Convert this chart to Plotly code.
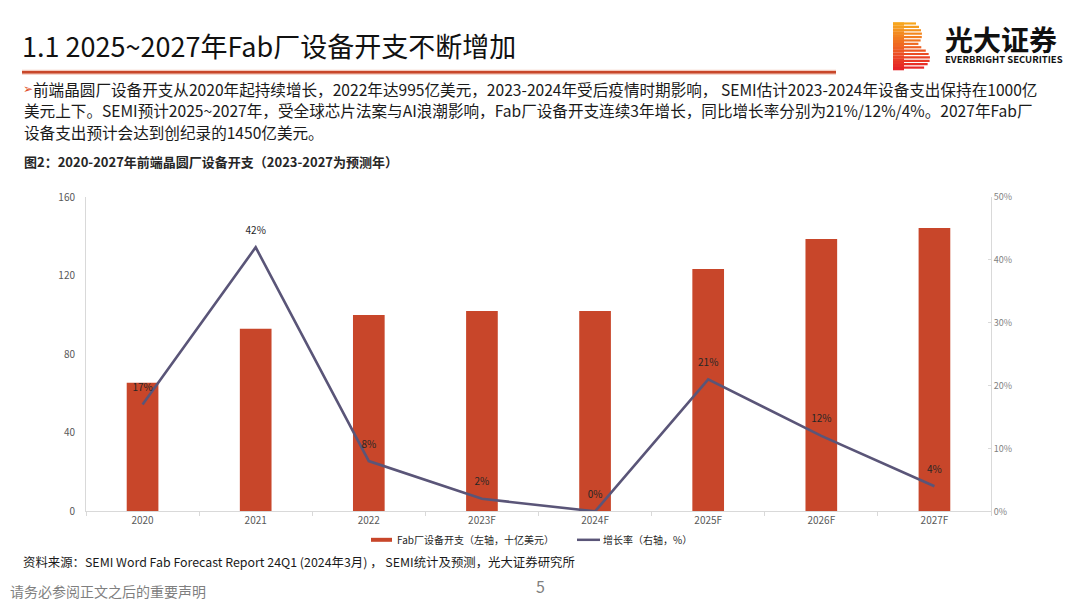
import plotly.graph_objects as go

categories = ["2020", "2021", "2022", "2023F", "2024F", "2025F", "2026F", "2027F"]
capex = [65.5, 92.9, 100.0, 102.0, 102.0, 123.4, 138.6, 144.2]
growth = [17, 42, 8, 2, 0, 21, 12, 4]
growth_labels = [f"{g}%" for g in growth]
left_ticks = [0, 40, 80, 120, 160]
right_ticks = [0, 10, 20, 30, 40, 50]
right_tick_labels = [f"{t}%" for t in right_ticks]

BAR = "#c8462a"
LINE = "#5a5578"
PAGE_W, PAGE_H = 1080, 608
OFF = 8  # default body margin of the html page
W, H = PAGE_W - 2 * OFF, PAGE_H - 2 * OFF
CJK = "Noto Sans CJK SC"
# empirical vertical correction of the photographed page
VA, VB = 0.975, 7.8

def px(x):
    return (x - OFF) / W

def py(y):
    yy = (y - VB) / VA
    return 1 - (yy - OFF) / H

fig = go.Figure()
fig.add_trace(go.Bar(x=categories, y=capex, marker=dict(color=BAR, line=dict(width=0)),
                     width=0.28, yaxis="y", name="Fab厂设备开支（左轴，十亿美元）"))
fig.add_trace(go.Scatter(x=categories, y=growth, mode="lines+markers+text", yaxis="y2",
                         line=dict(color=LINE, width=2.6),
                         marker=dict(size=16, color="rgba(0,0,0,0)"),
                         text=growth_labels, textposition="top center",
                         textfont=dict(family=CJK, size=10, color="#262626"),
                         name="增长率（右轴，%）"))

axis_font = dict(family=CJK, size=10, color="#595959")
fig.update_layout(
    width=W, height=H, margin=dict(l=0, r=0, t=0, b=0),
    paper_bgcolor="white", plot_bgcolor="white", showlegend=False,
    xaxis=dict(domain=[px(86), px(991)], type="category", showline=True, linecolor="#d9d9d9",
               linewidth=1, ticks="outside", tickson="boundaries", ticklen=4, tickcolor="#d9d9d9",
               tickfont=axis_font, showgrid=False, zeroline=False),
    yaxis=dict(domain=[py(511), py(196)], range=[0, 160], tickvals=left_ticks, showline=True,
               linecolor="#d9d9d9", showgrid=False, zeroline=False, tickfont=axis_font,
               ticks="", ticklabelstandoff=8),
    yaxis2=dict(overlaying="y", side="right", range=[0, 50], tickvals=right_ticks,
                ticktext=right_tick_labels, showline=True, linecolor="#d9d9d9", showgrid=False,
                zeroline=False, ticks="inside", ticklen=3, tickcolor="#d9d9d9",
                tickfont=dict(family=CJK, size=9, color="#7f7f7f"), anchor="x"),
)

shapes = []
annos = []

# Title and underline
annos.append(dict(x=px(20), y=py(44), xref="paper", yref="paper", xanchor="left", yanchor="middle",
                  text="1.1 2025~2027年Fab厂设备开支不断增加", showarrow=False,
                  font=dict(family=CJK, size=27, color="#111111")))
shapes.append(dict(type="line", xref="paper", yref="paper", x0=px(22), x1=px(836), y0=py(71), y1=py(71),
                   line=dict(color="#f3c9bd", width=5)))
shapes.append(dict(type="line", xref="paper", yref="paper", x0=px(22), x1=px(836), y0=py(71), y1=py(71),
                   line=dict(color="#c8472a", width=2.5)))

# Logo (B made of stripes)
stops = [(0.0, (247, 166, 30)), (1.0, (230, 30, 40))]
def grad(t):
    a, b = stops[0][1], stops[1][1]
    return "rgb(%d,%d,%d)" % tuple(int(a[i] + (b[i] - a[i]) * t) for i in range(3))
y = 21.0
while y < 68:
    t = (y - 21) / 47
    if y < 44:
        rel = (y - 21) / 23
        right = 916 + 6 * (1 - ((rel - 0.5) * 2) ** 2)
    else:
        rel = (y - 44) / 24
        right = 920 + 10 * (1 - ((rel - 0.5) * 2) ** 2)
    shapes.append(dict(type="rect", xref="paper", yref="paper", x0=px(893), x1=px(right),
                       y0=py(y + 2.2), y1=py(y), fillcolor=grad(t), line=dict(width=0), layer="above"))
    y += 3.4
for yy in range(21, 68, 3):
    t = (yy - 21) / 47
    shapes.append(dict(type="rect", xref="paper", yref="paper", x0=px(893), x1=px(904), y0=py(yy + 3), y1=py(yy),
                       fillcolor=grad(t), line=dict(width=0), layer="above"))
annos.append(dict(x=px(943), y=py(41), xref="paper", yref="paper", xanchor="left", yanchor="middle",
                  align="left",
                  text="<span style='font-size:28px'><b>光大证券</b></span><br><b>EVERBRIGHT SECURITIES</b>",
                  showarrow=False, font=dict(family=CJK, size=9.5, color="#111111")))

# Body text
body = [
    "前端晶圆厂设备开支从2020年起持续增长，2022年达995亿美元，2023-2024年受后疫情时期影响， SEMI估计2023-2024年设备支出保持在1000亿",
    "美元上下。SEMI预计2025~2027年，受全球芯片法案与AI浪潮影响，Fab厂设备开支连续3年增长，同比增长率分别为21%/12%/4%。2027年Fab厂",
    "设备支出预计会达到创纪录的1450亿美元。",
]
annos.append(dict(x=px(21), y=py(87.5), xref="paper", yref="paper", xanchor="left", yanchor="middle",
                  text="➢", showarrow=False, font=dict(family="DejaVu Sans", size=12, color="#e0502a")))
for i, line in enumerate(body):
    annos.append(dict(x=px(31 if i == 0 else 22), y=py(87.5 + 21.5 * i), xref="paper", yref="paper",
                      xanchor="left", yanchor="middle", text=line, showarrow=False,
                      font=dict(family=CJK, size=15.6, color="#1a1a1a")))

annos.append(dict(x=px(22), y=py(160), xref="paper", yref="paper", xanchor="left", yanchor="middle",
                  text="<b>图2：2020-2027年前端晶圆厂设备开支（2023-2027为预测年）</b>", showarrow=False,
                  font=dict(family=CJK, size=13, color="#262626")))

# Legend (manual)
shapes.append(dict(type="rect", xref="paper", yref="paper", x0=px(371), x1=px(392), y0=py(541.5), y1=py(537.5),
                   fillcolor=BAR, line=dict(width=0)))
annos.append(dict(x=px(395), y=py(539.5), xref="paper", yref="paper", xanchor="left", yanchor="middle",
                  text="Fab厂设备开支（左轴，十亿美元）", showarrow=False,
                  font=dict(family=CJK, size=10, color="#262626")))
shapes.append(dict(type="line", xref="paper", yref="paper", x0=px(577), x1=px(600), y0=py(539.5), y1=py(539.5),
                   line=dict(color=LINE, width=2.5)))
annos.append(dict(x=px(601), y=py(539.5), xref="paper", yref="paper", xanchor="left", yanchor="middle",
                  text="增长率（右轴，%）", showarrow=False,
                  font=dict(family=CJK, size=10, color="#262626")))

# Source & footer
annos.append(dict(x=px(21), y=py(562), xref="paper", yref="paper", xanchor="left", yanchor="middle",
                  text="资料来源：SEMI Word Fab Forecast Report 24Q1 (2024年3月) ， SEMI统计及预测，光大证券研究所",
                  showarrow=False, font=dict(family=CJK, size=12.4, color="#1a1a1a")))
annos.append(dict(x=px(8), y=py(590.5), xref="paper", yref="paper", xanchor="left", yanchor="middle",
                  text="请务必参阅正文之后的重要声明", showarrow=False,
                  font=dict(family=CJK, size=14, color="#7f7f7f")))
annos.append(dict(x=px(540), y=py(586), xref="paper", yref="paper", xanchor="center", yanchor="middle",
                  text="5", showarrow=False, font=dict(family=CJK, size=16, color="#7f7f7f")))

fig.update_layout(shapes=shapes, annotations=annos)
fig.write_html("out.html", config={"displayModeBar": False})
